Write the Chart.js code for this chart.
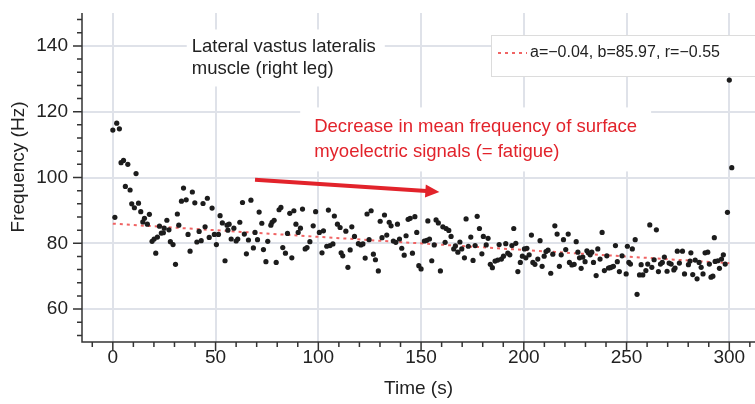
<!DOCTYPE html>
<html>
<head>
<meta charset="utf-8">
<script src="https://cdn.jsdelivr.net/npm/chart.js@4.4.1/dist/chart.umd.min.js"></script>
<style>
  html, body { margin: 0; padding: 0; background: #fff; }
  #wrap { width: 755px; height: 404px; }
</style>
</head>
<body>
<div id="wrap"><canvas id="emg" width="755" height="404"></canvas></div>
<script>
// mean frequency of the surface EMG, one dot per window
const timeS = [
  0.0, 1.0, 1.9, 3.2, 4.0, 5.2, 6.1, 7.3, 8.4, 9.2,
  10.5, 11.3, 12.5, 13.6, 14.6, 15.4, 16.8, 17.8, 19.1, 20.1,
  20.9, 21.7, 22.7, 23.6, 24.6, 25.0, 26.3, 27.3, 28.0, 29.3,
  30.5, 31.4, 32.1, 33.4, 34.4, 35.7, 36.6, 37.6, 38.7, 39.9,
  40.9, 42.0, 43.0, 43.9, 44.9, 46.0, 46.9, 48.3, 49.4, 50.4,
  51.4, 52.2, 53.3, 54.6, 55.6, 56.0, 56.6, 57.6, 58.9, 60.0,
  60.8, 61.8, 63.1, 64.0, 65.0, 66.0, 67.2, 68.4, 69.2, 70.4,
  71.2, 72.5, 73.3, 74.5, 75.4, 76.9, 77.5, 78.5, 79.5, 80.9,
  81.8, 82.7, 84.0, 85.0, 86.1, 87.1, 88.1, 89.1, 90.2, 91.3,
  92.3, 93.6, 94.5, 95.9, 97.5, 98.7, 100.5, 101.8, 102.5, 104.1,
  104.9, 105.7, 107.1, 107.8, 109.3, 110.6, 111.1, 111.9, 113.4, 114.4,
  115.5, 116.3, 117.6, 119.5, 120.7, 121.7, 122.8, 123.7, 124.7, 125.7,
  126.8, 127.8, 129.2, 130.1, 131.0, 132.2, 133.3, 134.5, 135.4, 136.5,
  137.7, 138.5, 139.5, 140.6, 141.8, 142.7, 143.7, 144.7, 145.8, 147.0,
  147.9, 148.9, 150.0, 151.6, 152.8, 153.3, 154.1, 155.2, 156.4, 157.3,
  158.4, 159.4, 160.6, 161.7, 162.2, 163.5, 164.6, 165.9, 166.7, 167.9,
  168.9, 169.8, 171.1, 171.9, 173.0, 174.2, 175.3, 176.3, 177.3, 178.4,
  179.6, 180.3, 181.7, 182.6, 183.7, 184.7, 186.0, 187.3, 188.0, 189.1,
  190.1, 191.2, 192.2, 193.2, 194.2, 195.1, 196.1, 197.1, 198.3, 199.3,
  200.3, 201.0, 201.5, 202.6, 203.7, 204.4, 205.4, 206.8, 207.9, 208.9,
  209.9, 210.8, 211.8, 213.1, 214.1, 215.1, 216.2, 217.3, 218.2, 219.3,
  220.4, 221.6, 222.2, 223.4, 224.5, 225.5, 226.3, 227.1, 227.9, 228.7,
  229.8, 230.7, 231.4, 232.3, 233.1, 233.9, 235.2, 236.0, 237.1, 238.1,
  239.2, 240.4, 241.2, 242.0, 242.8, 243.6, 244.6, 245.5, 246.5, 247.8,
  249.8, 250.4, 251.1, 251.9, 252.8, 254.2, 255.1, 256.3, 257.1, 257.9,
  259.4, 260.3, 261.3, 262.3, 263.4, 264.5, 265.5, 266.5, 267.4, 268.4,
  269.7, 270.7, 271.7, 273.0, 273.6, 274.7, 275.7, 277.2, 278.2, 280.1,
  280.9, 281.3, 282.2, 283.4, 284.3, 285.3, 286.3, 287.2, 288.2, 289.5,
  290.3, 291.1, 292.0, 292.7, 293.1, 294.4, 295.2, 296.2, 297.1, 298.0,
  299.1, 300.0, 301.2
];
const freqHz = [
  114.4, 87.9, 116.5, 114.8, 104.5, 105.2, 97.3, 104.0, 96.2, 92.0,
  90.8, 101.2, 92.2, 89.6, 86.5, 87.6, 85.8, 88.8, 80.6, 81.3,
  77.0, 81.9, 85.2, 83.1, 83.2, 84.6, 87.0, 84.1, 80.5, 79.6,
  73.6, 88.9, 85.5, 92.8, 96.8, 93.2, 82.7, 77.6, 95.6, 92.3,
  80.4, 83.6, 80.8, 92.1, 85.0, 93.7, 81.8, 90.7, 82.7, 79.6,
  82.7, 88.4, 86.2, 74.7, 85.5, 84.0, 85.8, 81.3, 84.6, 80.7,
  81.3, 86.4, 92.4, 82.8, 76.8, 81.0, 93.1, 78.6, 83.3, 81.1,
  89.5, 86.1, 78.1, 74.4, 80.6, 85.5, 86.4, 87.0, 74.2, 90.2,
  90.9, 78.7, 77.0, 83.0, 89.1, 75.6, 89.9, 85.8, 83.3, 84.6,
  90.4, 78.3, 78.7, 80.5, 85.3, 89.6, 83.3, 77.1, 83.8, 79.1,
  90.1, 79.3, 79.8, 88.3, 85.8, 84.8, 77.1, 76.2, 83.7, 72.7,
  78.0, 85.0, 82.1, 79.9, 79.5, 79.8, 75.5, 88.9, 81.1, 89.9,
  76.7, 75.0, 71.6, 86.7, 81.7, 88.6, 82.5, 86.4, 85.3, 80.7,
  80.3, 85.8, 81.3, 78.5, 76.4, 82.3, 87.3, 87.6, 77.0, 88.1,
  83.3, 73.2, 72.2, 80.7, 80.9, 86.8, 81.3, 74.7, 79.5, 87.1,
  86.2, 71.6, 85.0, 80.3, 84.5, 83.9, 82.1, 78.3, 79.2, 77.3,
  80.4, 78.3, 75.6, 87.4, 79.1, 81.9, 74.8, 79.3, 88.2, 84.5,
  76.8, 82.1, 79.5, 81.5, 73.6, 72.6, 74.6, 74.9, 79.6, 75.2,
  76.1, 79.9, 77.0, 76.5, 79.3, 84.5, 80.0, 71.4, 74.2, 76.1,
  78.3, 75.6, 78.5, 76.5, 82.5, 74.2, 73.6, 75.2, 80.8, 73.0,
  76.1, 77.5, 77.9, 70.9, 76.7, 85.3, 82.8, 73.0, 76.5, 81.1,
  78.1, 82.8, 74.2, 73.4, 73.6, 80.5, 77.3, 75.6, 72.4, 75.8,
  74.4, 77.7, 77.1, 76.5, 77.3, 74.2, 70.2, 78.3, 75.2, 83.3,
  71.7, 76.2, 72.5, 72.6, 72.8, 73.0, 79.3, 74.4, 71.4, 76.2,
  70.7, 79.1, 74.2, 73.7, 78.3, 81.1, 64.5, 70.4, 73.5, 70.4,
  71.7, 73.7, 85.6, 72.7, 75.0, 84.1, 71.4, 73.7, 74.2, 75.8,
  71.5, 74.0, 73.7, 71.9, 72.5, 77.6, 74.0, 77.6, 70.7, 73.5,
  74.6, 77.1, 70.5, 74.9, 69.2, 74.2, 72.7, 70.7, 77.1, 77.3,
  73.7, 69.7, 70.0, 81.7, 74.5, 74.7, 72.4, 75.2, 76.5, 73.7,
  89.4, 129.6, 103.0
];

// labelled ticks
const xTickVals = [0, 50, 100, 150, 200, 250, 300];
const yTickVals = [60, 80, 100, 120, 140];

// regression line end points (a = -0.04, b = 85.97)
const fitX = [0, 300];
const fitY = [85.97, 73.97];
const fitLabel = 'a=\u22120.04, b=85.97, r=\u22120.55';

const muscleNote = ['Lateral vastus lateralis', 'muscle (right leg)'];
const fatigueNote = ['Decrease in mean frequency of surface', 'myoelectric signals (= fatigue)'];
// anchors in data units: [time, freq]
const muscleAt = [38.4, 138.0];
const fatigueAt = [98.0, 113.7];
const arrowFrom = [69.2, 99.3];
const arrowTo = [158.9, 95.6];

const FONT = '"Liberation Sans", Arial, Helvetica, sans-serif';
const RED = '#e2232b';
const INK = '#222';
const GRID = '#dfe2e9';

Chart.defaults.font.family = FONT;
Chart.defaults.color = INK;

function drawAxes(chart) {
  const {ctx, chartArea: a, scales: {x, y}} = chart;
  ctx.save();
  ctx.strokeStyle = '#333';
  ctx.lineWidth = 1.5;
  ctx.beginPath();
  ctx.moveTo(a.left, a.top);
  ctx.lineTo(a.left, a.bottom);
  ctx.lineTo(a.right, a.bottom);
  for (let v = -10; v <= 310; v += 10) {
    const px = x.getPixelForValue(v);
    ctx.moveTo(px, a.bottom);
    ctx.lineTo(px, a.bottom + (v % 50 === 0 ? 9 : 5));
  }
  for (let v = 52; v <= 148; v += 4) {
    const py = y.getPixelForValue(v);
    ctx.moveTo(a.left, py);
    ctx.lineTo(a.left - (v % 20 === 0 ? 9 : 5), py);
  }
  ctx.stroke();

  // y title, sits a little above the middle in the original
  ctx.fillStyle = INK;
  ctx.font = '19px ' + FONT;
  ctx.translate(19, 167);
  ctx.rotate(-Math.PI / 2);
  ctx.textAlign = 'center';
  ctx.textBaseline = 'middle';
  ctx.fillText('Frequency (Hz)', 0, 0);
  ctx.restore();
}

const notes = {
  id: 'notes',
  beforeDatasetsDraw(chart) {
    const {ctx, width, scales: {x, y}} = chart;
    ctx.save();
    ctx.fillStyle = '#fff';
    ctx.font = '18.5px ' + FONT;

    // white panels hide the grid behind the notes
    let mx = x.getPixelForValue(muscleAt[0]), my = y.getPixelForValue(muscleAt[1]);
    let w = Math.max(...muscleNote.map(t => ctx.measureText(t).width));
    ctx.fillRect(mx - 5, my - 23, w + 14, 57);

    let fx = x.getPixelForValue(fatigueAt[0]), fy = y.getPixelForValue(fatigueAt[1]);
    w = Math.max(...fatigueNote.map(t => ctx.measureText(t).width));
    ctx.fillRect(fx - 14, fy - 25, w + 28, 64);

    // legend box
    ctx.fillRect(491, 35, width - 491 + 5, 42);
    ctx.strokeStyle = '#dcdcdc';
    ctx.lineWidth = 1;
    ctx.strokeRect(491.5, 35.5, width - 491 + 5, 41);
    ctx.restore();
  },
  afterDraw(chart) {
    const {ctx, scales: {x, y}} = chart;
    drawAxes(chart);
    ctx.save();
    ctx.font = '18.5px ' + FONT;
    ctx.textBaseline = 'alphabetic';

    ctx.fillStyle = INK;
    let mx = x.getPixelForValue(muscleAt[0]), my = y.getPixelForValue(muscleAt[1]);
    muscleNote.forEach((t, i) => ctx.fillText(t, mx, my + i * 21.5));

    ctx.fillStyle = RED;
    let fx = x.getPixelForValue(fatigueAt[0]), fy = y.getPixelForValue(fatigueAt[1]);
    fatigueNote.forEach((t, i) => ctx.fillText(t, fx, fy + i * 24.5));

    // arrow
    const x0 = x.getPixelForValue(arrowFrom[0]), y0 = y.getPixelForValue(arrowFrom[1]);
    const x1 = x.getPixelForValue(arrowTo[0]), y1 = y.getPixelForValue(arrowTo[1]);
    const ang = Math.atan2(y1 - y0, x1 - x0);
    const head = 14, half = 6.5;
    const bx = x1 - head * Math.cos(ang), by = y1 - head * Math.sin(ang);
    ctx.strokeStyle = RED;
    ctx.lineWidth = 4;
    ctx.beginPath();
    ctx.moveTo(x0, y0);
    ctx.lineTo(bx + Math.cos(ang), by + Math.sin(ang));
    ctx.stroke();
    ctx.beginPath();
    ctx.moveTo(x1, y1);
    ctx.lineTo(bx + half * Math.sin(ang), by - half * Math.cos(ang));
    ctx.lineTo(bx - half * Math.sin(ang), by + half * Math.cos(ang));
    ctx.closePath();
    ctx.fill();

    // legend entry
    ctx.strokeStyle = '#f06464';
    ctx.lineWidth = 2;
    ctx.setLineDash([3, 4]);
    ctx.beginPath();
    ctx.moveTo(498, 53);
    ctx.lineTo(527, 53);
    ctx.stroke();
    ctx.setLineDash([]);
    ctx.fillStyle = INK;
    ctx.font = '16px ' + FONT;
    ctx.textBaseline = 'middle';
    ctx.fillText(fitLabel, 530, 53);
    ctx.restore();
  }
};

const ctx = document.getElementById('emg').getContext('2d');
const emgChart = new Chart(ctx, {
  type: 'scatter',
  data: {
    datasets: [
      {
        label: 'fit',
        type: 'line',
        data: fitX.map((t, i) => ({x: t, y: fitY[i]})),
        borderColor: '#f06464',
        borderWidth: 2,
        borderDash: [3, 4],
        pointRadius: 0,
        fill: false,
        order: 2
      },
      {
        label: 'mean frequency',
        data: timeS.map((t, i) => ({x: t, y: freqHz[i]})),
        pointRadius: 2.6,
        pointBackgroundColor: '#1c1c1c',
        pointBorderWidth: 0,
        order: 1
      }
    ]
  },
  options: {
    responsive: false,
    devicePixelRatio: 1,
    animation: false,
    events: [],
    layout: { padding: { top: 13, right: 0, left: 0, bottom: 0 }, autoPadding: false },
    plugins: {
      legend: { display: false },
      tooltip: { enabled: false }
    },
    scales: {
      x: {
        type: 'linear',
        min: -15,
        max: 312.5,
        afterBuildTicks: s => { s.ticks = xTickVals.map(v => ({value: v})); },
        afterFit: s => { s.height = 62; s.paddingLeft = 0; s.paddingRight = 0; },
        border: { display: false },
        grid: { color: GRID, lineWidth: 2, drawTicks: false },
        ticks: { padding: 4, font: { size: 19 }, color: INK },
        title: { display: true, text: 'Time (s)', font: { size: 19 }, color: INK }
      },
      y: {
        type: 'linear',
        min: 50,
        max: 150,
        afterBuildTicks: s => { s.ticks = yTickVals.map(v => ({value: v})); },
        afterFit: s => { s.width = 82; s.paddingTop = 0; s.paddingBottom = 0; },
        border: { display: false },
        grid: { color: GRID, lineWidth: 2, drawTicks: false },
        ticks: { padding: 14, font: { size: 19 }, color: INK }
      }
    }
  },
  plugins: [notes]
});
</script>
</body>
</html>
